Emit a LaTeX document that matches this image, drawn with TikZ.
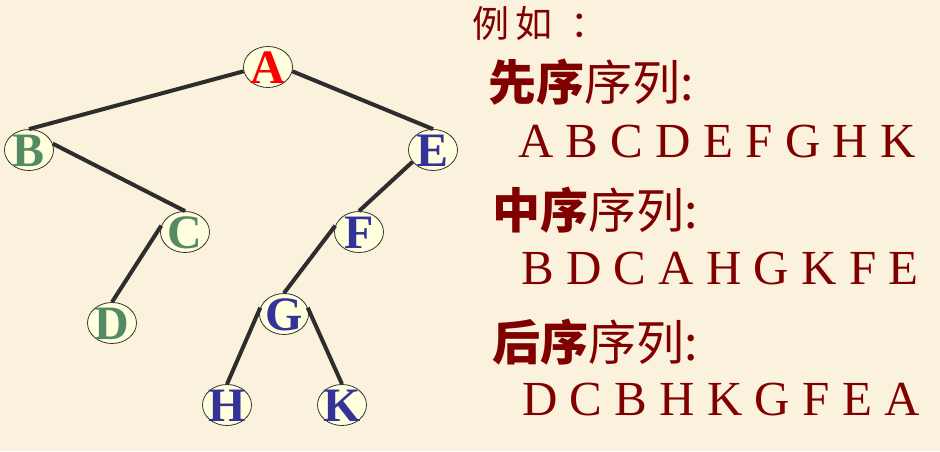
\documentclass[tikz,border=0pt]{standalone}
\usepackage{fontspec}
\setmainfont{Liberation Serif}
\newfontfamily\cjk{Noto Sans CJK SC}
\usetikzlibrary{shapes.geometric}
\definecolor{bg}{RGB}{251,242,221}
\definecolor{nodefill}{RGB}{255,255,221}
\definecolor{redA}{RGB}{255,0,0}
\definecolor{greenN}{RGB}{84,138,100}
\definecolor{blueN}{RGB}{51,51,153}
\definecolor{darkred}{RGB}{128,0,0}
\definecolor{edgecol}{RGB}{45,45,45}
\newcommand{\tl}[1]{\makebox[0pt]{\raisebox{-16pt}[0pt][0pt]{#1}}}
\tikzset{
  tnode/.style={ellipse, draw=black!80, line width=0.8pt, fill=nodefill,
    minimum width=49pt, minimum height=41pt, inner sep=0pt,
    font=\fontsize{48}{48}\selectfont\bfseries},
  edge/.style={draw=edgecol, line width=4pt},
  seqtitle/.style={anchor=west, inner sep=0pt, text=darkred,
    font=\fontsize{48}{48}\selectfont\cjk},
  seqline/.style={anchor=base west, inner sep=0pt, text=darkred,
    font=\fontsize{49}{49}\selectfont}
}
\begin{document}
\begin{tikzpicture}[x=1pt,y=-1pt]
\fill[bg] (0,0) rectangle (940,451);
\useasboundingbox (0,0) rectangle (940,451);
\node[tnode, text=redA]   (A) at (268,67)  {\tl{A}};
\node[tnode, text=greenN] (B) at (29,150)  {\tl{B}};
\node[tnode, text=blueN]  (E) at (433,150) {\tl{E}};
\node[tnode, text=greenN] (C) at (185,232) {\tl{C}};
\node[tnode, text=blueN]  (F) at (359,232) {\tl{F}};
\node[tnode, text=greenN] (D) at (112,323) {\tl{D}};
\node[tnode, text=blueN]  (G) at (284,314) {\tl{G}};
\node[tnode, text=blueN]  (H) at (227,405) {\tl{H}};
\node[tnode, text=blueN]  (K) at (342,405) {\tl{K}};
\draw[edge] (A.190) -- (B.north);
\draw[edge] (A.-10) -- (E.north);
\draw[edge] (B.15) -- (C.north);
\draw[edge] (E.210) -- (F.north);
\draw[edge] (C.165) -- (D.north);
\draw[edge] (F.165) -- (G.north);
\draw[edge] (G.165) -- (H.north);
\draw[edge] (G.15) -- (K.north);
% text
\node[anchor=west, inner sep=0pt, text=darkred, font=\fontsize{37}{37}\selectfont\cjk] (ex) at (472,23) {例\hspace{6pt}如\hspace{18pt}：};
\node[seqtitle] (t1) at (488,82)  {{\bfseries 先序}序列:};
\node[seqline]  (s1) at (518,157) {A B C D E F G H K};
\node[seqtitle] (t2) at (492,210) {{\bfseries 中序}序列:};
\node[seqline]  (s2) at (521,284) {B D C A H G K F E};
\node[seqtitle] (t3) at (492,342) {{\bfseries 后序}序列:};
\node[seqline]  (s3) at (522,415) {D C B H K G F E A};
\end{tikzpicture}
\end{document}
